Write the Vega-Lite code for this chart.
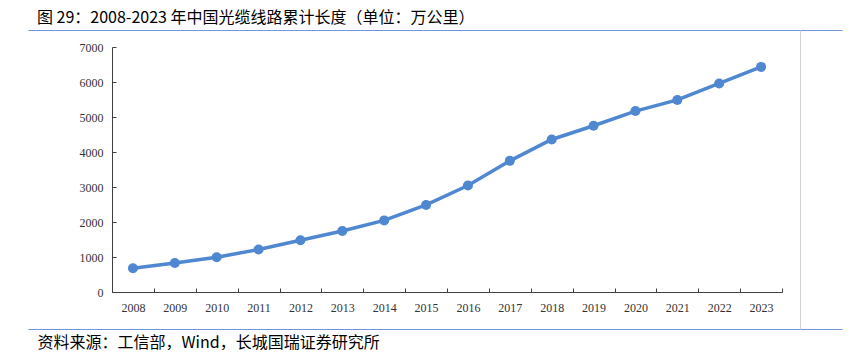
{
  "$schema": "https://vega.github.io/schema/vega-lite/v6.json",
  "autosize": {"type": "none"},
  "padding": {"left": 112, "top": 47, "right": 80, "bottom": 70},
  "width": 670,
  "height": 245,
  "background": "white",
  "config": {"view": {"stroke": null}},
  "title": {
    "text": "图 29：2008-2023 年中国光缆线路累计长度（单位：万公里）",
    "anchor": "start",
    "frame": "group",
    "dx": -75,
    "offset": 4,
    "font": "Noto Sans CJK SC",
    "fontSize": 16,
    "fontWeight": "normal",
    "color": "#000000"
  },
  "data": {
    "values": [
      {"year": "2008", "value": 677},
      {"year": "2009", "value": 829},
      {"year": "2010", "value": 995},
      {"year": "2011", "value": 1212},
      {"year": "2012", "value": 1479},
      {"year": "2013", "value": 1745},
      {"year": "2014", "value": 2046},
      {"year": "2015", "value": 2487},
      {"year": "2016", "value": 3042},
      {"year": "2017", "value": 3747},
      {"year": "2018", "value": 4358},
      {"year": "2019", "value": 4750},
      {"year": "2020", "value": 5169},
      {"year": "2021", "value": 5488},
      {"year": "2022", "value": 5958},
      {"year": "2023", "value": 6432}
    ]
  },
  "layer": [
    {
      "mark": {"type": "line", "color": "#4F87D0", "strokeWidth": 3.5, "point": {"filled": true, "size": 100, "color": "#4F87D0", "opacity": 1}},
      "encoding": {
        "x": {
          "field": "year", "type": "ordinal",
          "scale": {"type": "band", "paddingInner": 0, "paddingOuter": 0},
          "axis": {
            "orient": "bottom",
            "title": "资料来源：工信部，Wind，长城国瑞证券研究所",
            "titleFont": "Noto Sans CJK SC",
            "titleFontSize": 16,
            "titleFontWeight": "normal",
            "titleColor": "#000000",
            "titleAnchor": null,
            "titleAlign": "left",
            "titleBaseline": "middle",
            "titleX": -75,
            "titleY": 50,
            "tickBand": "extent",
            "tickSize": -4,
            "tickColor": "#404040",
            "domainColor": "#404040",
            "labelAngle": 0,
            "labelFont": "Liberation Serif",
            "labelFontSize": 12,
            "labelColor": "#333333",
            "labelPadding": 14,
            "grid": false
          }
        },
        "y": {
          "field": "value", "type": "quantitative",
          "scale": {"domain": [0, 7000], "nice": false},
          "axis": {
            "orient": "left",
            "title": null,
            "format": "d",
            "values": [0, 1000, 2000, 3000, 4000, 5000, 6000, 7000],
            "tickSize": -4,
            "tickColor": "#404040",
            "domainColor": "#404040",
            "labelFont": "Liberation Serif",
            "labelFontSize": 12,
            "labelColor": "#333333",
            "labelPadding": 13,
            "grid": false
          }
        }
      }
    },
    {
      "mark": {"type": "point", "opacity": 0},
      "encoding": {
        "x": {
          "field": "year", "type": "ordinal",
          "scale": {"type": "point", "range": [-84, 730]},
          "axis": {"orient": "top", "offset": 17, "ticks": false, "labels": false, "title": null, "domainColor": "#6F96DA", "domainWidth": 1.2, "grid": false}
        },
        "y": {
          "field": "value", "type": "quantitative",
          "scale": {"range": [282, -17]},
          "axis": {"orient": "right", "offset": 18, "ticks": false, "labels": false, "title": null, "domainColor": "#D0D0D0", "domainWidth": 1, "grid": false}
        }
      }
    },
    {
      "mark": {"type": "point", "opacity": 0},
      "encoding": {
        "x": {
          "field": "year", "type": "ordinal",
          "scale": {"type": "point", "range": [-84, 730]},
          "axis": {"orient": "bottom", "offset": 37, "ticks": false, "labels": false, "title": null, "domainColor": "#6F96DA", "domainWidth": 1.2, "grid": false}
        }
      }
    }
  ],
  "resolve": {"scale": {"x": "independent", "y": "independent"}, "axis": {"x": "independent", "y": "independent"}}
}
